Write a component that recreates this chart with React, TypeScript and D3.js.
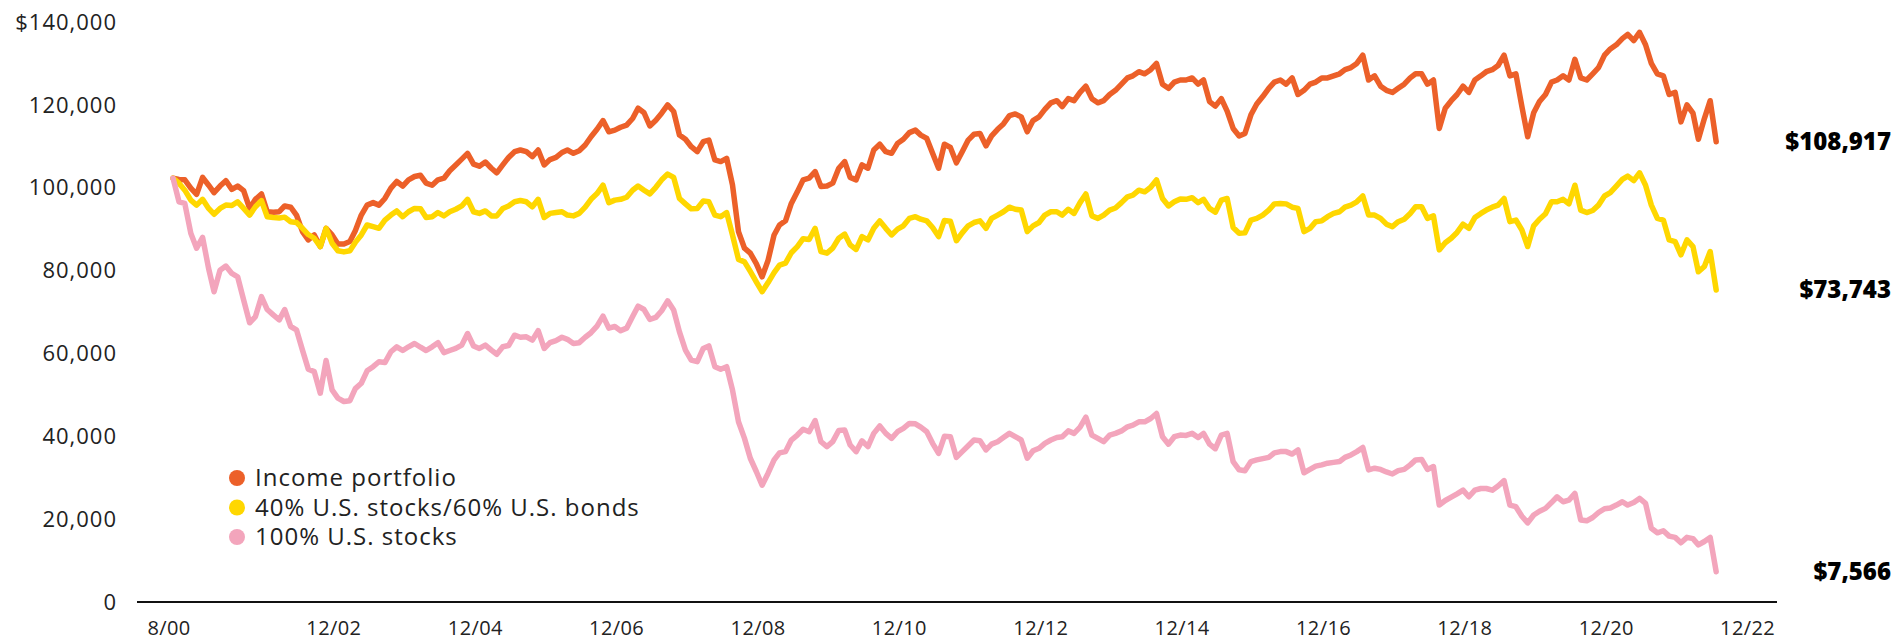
import React from "react";
import * as d3 from "d3";

// Monthly values in $ thousands, Aug 2000 onward
const incomePortfolio = [
  102.3, 102.0, 101.9, 99.9, 98.4, 102.5, 100.6, 98.8, 100.4, 101.7, 99.6, 100.4, 99.3, 95.0, 97.2, 98.5, 94.2, 94.1, 94.2, 95.6,
  95.3, 93.4, 89.4, 87.4, 88.6, 85.8, 90.2, 88.6, 86.4, 86.4, 87.0, 89.6, 93.4, 95.8, 96.4, 95.8, 97.4, 99.9, 101.5, 100.4,
  101.9, 102.7, 103.0, 101.1, 100.6, 101.9, 102.3, 104.1, 105.5, 106.9, 108.3, 105.7, 105.2, 106.2, 104.7, 103.6, 105.5, 107.3, 108.7, 109.1,
  108.7, 107.5, 109.1, 105.5, 106.8, 107.3, 108.5, 109.1, 108.3, 108.9, 110.3, 112.3, 114.1, 116.2, 113.5, 113.9, 114.6, 115.1, 116.7, 119.2,
  118.1, 114.9, 116.3, 118.0, 120.0, 118.4, 112.7, 111.7, 109.9, 108.7, 111.1, 111.5, 106.7, 106.3, 107.1, 100.7, 89.4, 85.4, 84.2, 81.7,
  78.5, 82.5, 88.6, 91.0, 92.0, 96.2, 99.0, 101.9, 102.3, 103.9, 100.3, 100.4, 101.1, 104.7, 106.3, 102.5, 101.9, 105.5, 104.7, 109.1,
  110.5, 108.7, 108.3, 110.7, 111.7, 113.3, 113.9, 112.7, 111.9, 108.3, 104.7, 110.5, 109.7, 106.0, 108.7, 111.5, 112.9, 113.1, 110.1, 112.5,
  114.1, 115.4, 117.4, 117.8, 117.1, 113.5, 116.2, 117.1, 118.9, 120.5, 121.0, 119.6, 121.5, 121.0, 123.0, 124.5, 121.5, 120.5, 121.0, 122.5,
  123.5, 125.0, 126.5, 127.0, 128.0, 127.5, 128.5, 130.0, 125.0, 124.0, 125.5, 126.0, 126.0, 126.5, 125.0, 126.0, 120.8, 119.7, 121.5, 118.5,
  114.3, 112.5, 113.1, 117.6, 120.2, 122.0, 124.0, 125.5, 126.0, 125.0, 126.5, 122.5, 123.5, 125.0, 125.5, 126.5, 126.5, 127.0, 127.5, 128.5,
  129.0, 130.0, 132.0, 126.0, 127.0, 124.5, 123.5, 123.0, 124.0, 125.0, 126.5, 127.5, 127.5, 125.0, 126.0, 114.3, 119.2, 121.0, 122.5, 124.5,
  123.0, 126.0, 127.0, 128.0, 128.5, 129.5, 132.0, 127.0, 127.5, 119.6, 112.3, 118.1, 120.8, 122.5, 125.5, 126.0, 127.0, 126.0, 131.0, 126.5,
  126.0, 127.5, 129.0, 132.0, 133.5, 134.5, 136.0, 137.0, 135.5, 137.5, 134.5, 130.0, 127.5, 127.0, 122.5, 123.0, 115.9, 120.0, 118.0, 111.7,
  116.7, 121.0, 111.1,
];

const stocks40Bonds60 = [
  102.3, 101.1, 99.4, 97.0, 95.8, 97.2, 95.0, 93.6, 95.0, 95.8, 95.7, 96.6, 95.0, 93.4, 95.4, 96.9, 93.0, 92.8, 92.7, 92.9,
  91.8, 91.6, 90.2, 88.7, 87.8, 85.8, 90.2, 86.6, 84.8, 84.5, 84.8, 86.8, 88.6, 91.0, 90.6, 90.2, 92.2, 93.4, 94.4, 93.0,
  94.2, 95.0, 94.9, 92.8, 93.0, 94.0, 93.2, 94.2, 94.8, 95.6, 97.2, 94.2, 93.8, 94.4, 93.2, 93.2, 95.0, 95.6, 96.6, 96.9,
  96.6, 95.4, 97.2, 92.8, 93.8, 94.0, 94.2, 93.4, 93.2, 93.8, 95.3, 97.2, 98.6, 100.6, 96.4, 97.0, 97.2, 97.7, 99.4, 100.4,
  99.4, 98.5, 100.1, 101.9, 103.3, 102.5, 97.4, 96.1, 94.9, 95.0, 96.8, 96.6, 93.4, 93.0, 94.0, 88.6, 82.7, 82.1, 79.8, 77.3,
  74.9, 77.1, 79.5, 81.3, 81.8, 84.3, 85.8, 87.7, 87.5, 90.2, 84.6, 84.2, 85.4, 87.8, 88.8, 86.2, 85.1, 88.2, 87.4, 90.2,
  92.0, 90.2, 88.6, 90.0, 90.8, 92.6, 93.0, 92.4, 92.0, 90.4, 88.2, 92.1, 91.9, 87.2, 89.1, 90.8, 91.6, 92.0, 90.2, 92.6,
  93.4, 94.2, 95.3, 94.8, 94.6, 89.4, 90.8, 91.6, 93.4, 94.2, 94.2, 93.4, 94.8, 93.8, 96.4, 98.5, 93.2, 92.6, 93.4, 94.6,
  95.1, 96.4, 97.8, 98.2, 99.4, 99.0, 100.1, 101.9, 97.4, 95.6, 96.6, 97.3, 97.2, 97.6, 96.4, 97.2, 95.0, 94.1, 97.0, 97.4,
  90.4, 89.0, 89.1, 92.2, 92.6, 93.4, 94.6, 96.1, 96.2, 96.1, 95.3, 95.0, 89.4, 90.2, 91.8, 92.0, 93.0, 93.8, 94.2, 95.3,
  95.8, 96.6, 98.0, 93.4, 93.4, 92.6, 91.2, 90.6, 91.8, 92.4, 93.8, 95.4, 95.4, 92.6, 93.2, 85.0, 86.7, 87.8, 89.2, 91.2,
  90.2, 92.8, 93.8, 94.6, 95.3, 95.8, 97.4, 91.8, 92.2, 89.8, 85.8, 90.8, 92.4, 93.7, 96.6, 96.6, 97.2, 96.1, 100.6, 94.6,
  94.0, 94.5, 95.8, 98.0, 98.8, 100.4, 102.0, 102.8, 101.7, 103.6, 100.6, 95.8, 92.6, 92.2, 87.4, 87.0, 83.8, 87.4, 85.8, 79.7,
  81.0, 84.6, 75.3,
];

const stocks100 = [
  102.3, 96.6, 96.2, 89.0, 85.4, 88.0, 80.5, 74.9, 80.1, 81.1, 79.3, 78.5, 72.9, 67.4, 68.9, 73.7, 70.6, 69.3, 68.1, 70.6,
  66.5, 65.7, 60.8, 56.2, 55.6, 50.4, 58.3, 51.2, 49.2, 48.4, 48.6, 51.5, 52.8, 55.8, 56.8, 58.0, 57.8, 60.4, 61.6, 60.7,
  61.6, 62.4, 61.5, 60.7, 61.6, 62.6, 60.2, 60.7, 61.2, 62.0, 64.8, 61.8, 61.2, 62.0, 60.8, 59.8, 61.6, 61.9, 64.4, 63.9,
  64.0, 63.2, 65.5, 61.2, 62.6, 63.1, 63.9, 63.4, 62.4, 62.6, 63.9, 65.0, 66.6, 69.0, 66.1, 66.5, 65.5, 66.1, 68.9, 71.4,
  70.6, 68.2, 68.7, 70.3, 72.7, 70.5, 65.2, 60.8, 58.4, 58.0, 61.2, 61.8, 56.8, 56.2, 56.8, 51.2, 43.5, 39.5, 34.7, 31.5,
  28.2, 31.1, 34.3, 36.0, 36.3, 39.1, 40.3, 41.7, 41.1, 43.8, 38.7, 37.5, 38.7, 41.4, 41.5, 37.9, 36.3, 38.9, 37.5, 40.7,
  42.5, 40.7, 39.5, 41.1, 41.9, 43.1, 43.0, 42.2, 41.1, 38.3, 35.9, 40.0, 39.9, 34.9, 36.3, 37.7, 39.1, 38.9, 36.7, 38.1,
  38.7, 39.7, 40.7, 39.9, 39.1, 34.7, 36.5, 37.1, 38.3, 39.1, 39.7, 39.9, 41.3, 40.7, 42.2, 44.6, 40.3, 39.5, 38.7, 40.3,
  40.7, 41.3, 42.3, 42.7, 43.5, 43.5, 44.3, 45.5, 39.9, 38.1, 39.9, 40.3, 40.2, 40.7, 39.7, 40.7, 38.1, 37.0, 40.3, 40.7,
  33.9, 31.9, 31.7, 33.9, 34.3, 34.6, 34.9, 36.0, 36.3, 36.3, 35.7, 36.7, 31.2, 32.0, 32.8, 33.1, 33.5, 33.7, 33.9, 34.9,
  35.5, 36.3, 37.3, 31.9, 32.3, 32.0, 31.4, 30.9, 31.7, 32.0, 33.1, 34.3, 34.4, 32.0, 32.7, 23.4, 24.5, 25.3, 26.1, 27.0,
  25.4, 27.0, 27.4, 27.4, 27.0, 28.0, 29.3, 23.4, 23.0, 20.7, 19.1, 21.0, 21.9, 22.6, 24.0, 25.4, 24.2, 24.6, 26.2, 19.8,
  19.6, 20.4, 21.6, 22.5, 22.7, 23.4, 24.2, 23.4, 24.0, 25.0, 23.8, 17.8, 16.7, 17.2, 15.9, 15.6, 14.3, 15.6, 15.3, 13.8,
  14.6, 15.6, 7.3,
];

const seriesNames = ["Income portfolio", "40% U.S. stocks/60% U.S. bonds", "100% U.S. stocks"];
const seriesColors = ["#EC6029", "#FFD700", "#F3A5BC"];
const endLabels = ["$108,917", "$73,743", "$7,566"];
const yTicks = [0, 20000, 40000, 60000, 80000, 100000, 120000, 140000];
const yTickLabels = ["0", "20,000", "40,000", "60,000", "80,000", "100,000", "120,000", "$140,000"];
const xTickLabels = ["8/00", "12/02", "12/04", "12/06", "12/08", "12/10", "12/12", "12/14", "12/16", "12/18", "12/20", "12/22"];

const W = 1896;
const H = 642;
const FONT = "'Open Sans', 'DejaVu Sans', sans-serif";

const startDate = new Date(2000, 7, 1);
const dateAt = (i: number) => new Date(2000, 7 + i, 1);
const parseTick = (s: string) => {
  const [m, y] = s.split("/").map(Number);
  return new Date(2000 + y, m - 1, 1);
};

export default function App() {
  const series = [incomePortfolio, stocks40Bonds60, stocks100];
  const n = incomePortfolio.length;
  const x = d3.scaleTime().domain([startDate, dateAt(n - 1)]).range([173, 173 + (n - 1) * 5.89]);
  const y = d3.scaleLinear().domain([0, 140000]).range([602, 22]);
  const line = d3
    .line<number>()
    .x((_, i) => x(dateAt(i)))
    .y((d) => y(d * 1000));

  return (
    <svg
      width={W}
      height={H}
      style={{ position: "absolute", left: 0, top: 0, background: "#fff" }}
      fontFamily={FONT}
    >
      {/* y tick labels */}
      {yTicks.map((t, i) => (
        <text key={t} x={117} y={y(t)} dy="0.35em" textAnchor="end" fontSize={22} fill="#222" letterSpacing={1}>
          {yTickLabels[i]}
        </text>
      ))}
      {/* x axis line */}
      <line x1={137} x2={1777} y1={y(0)} y2={y(0)} stroke="#111" strokeWidth={2} />
      {/* x tick labels */}
      {xTickLabels.map((lab) => (
        <text key={lab} x={x(parseTick(lab)) - 4} y={628} dy="0.35em" textAnchor="middle" fontSize={20} fill="#222" letterSpacing={0.4}>
          {lab}
        </text>
      ))}
      {/* lines */}
      {series.map((s, k) => (
        <path
          key={k}
          d={line(s) || ""}
          fill="none"
          stroke={seriesColors[k]}
          strokeWidth={5.5}
          strokeLinejoin="round"
          strokeLinecap="round"
        />
      ))}
      {/* end labels */}
      {series.map((s, k) => (
        <text
          key={"e" + k}
          x={1891}
          y={y(s[s.length - 1] * 1000)}
          dy="0.35em"
          textAnchor="end"
          fontSize={24}
          fontWeight={800}
          fill="#000"
        >
          {endLabels[k]}
        </text>
      ))}
      {/* legend */}
      {seriesNames.map((name, k) => (
        <g key={name} transform={`translate(237, ${478 + k * 29.5})`}>
          <circle r={8} fill={seriesColors[k]} />
          <text x={18} dy="0.35em" fontSize={24} fill="#222" letterSpacing={1}>
            {name}
          </text>
        </g>
      ))}
    </svg>
  );
}
